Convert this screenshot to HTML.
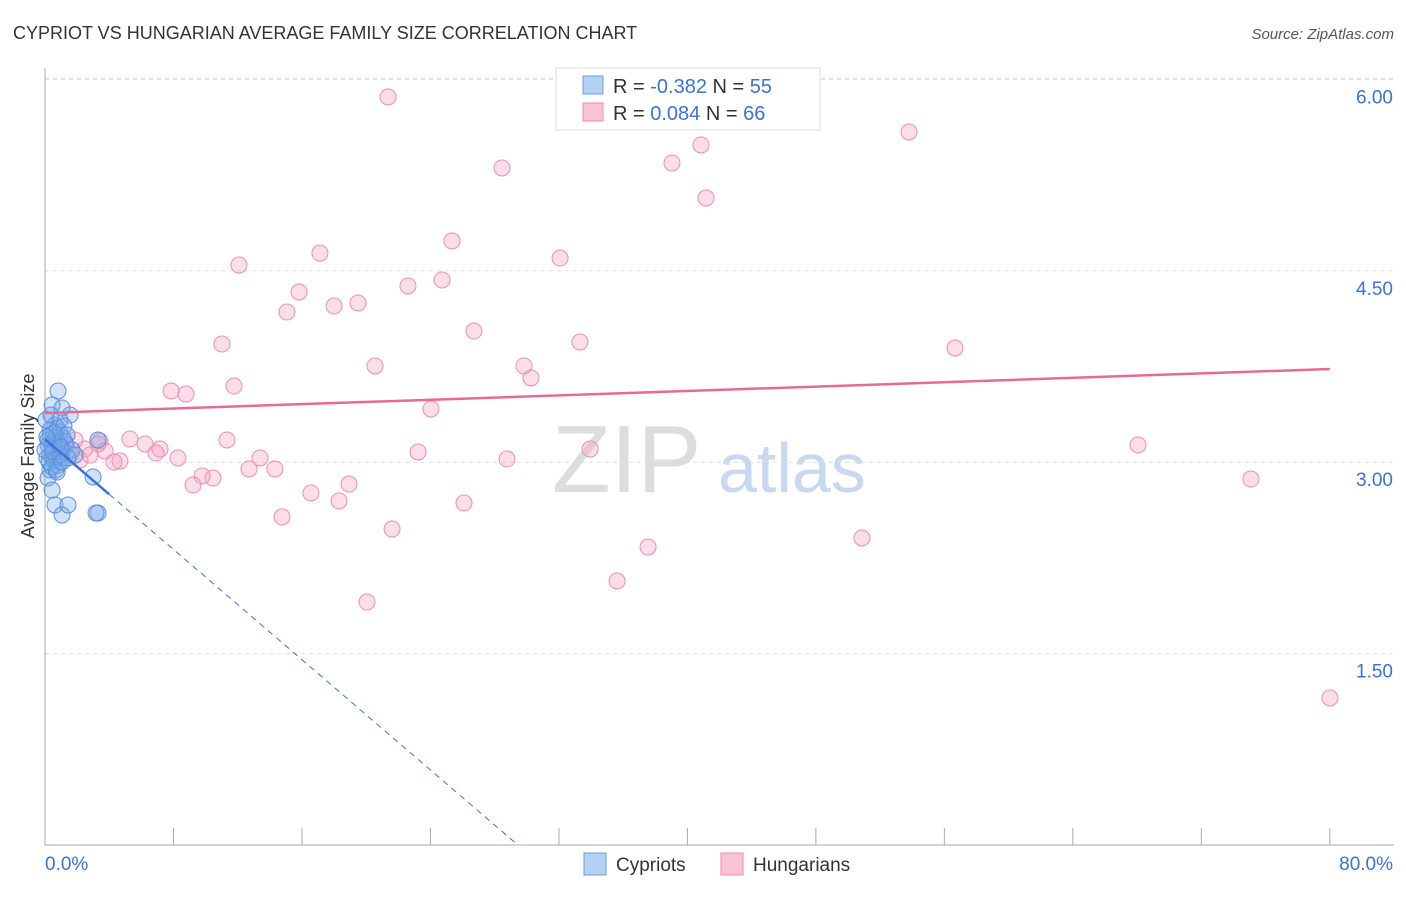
<!DOCTYPE html>
<html><head><meta charset="utf-8"><style>
body{margin:0;background:#fff;font-family:"Liberation Sans",sans-serif}
svg text{font-family:"Liberation Sans",sans-serif}
</style></head><body>
<svg id="chart" width="1406" height="892" xmlns="http://www.w3.org/2000/svg">
<text x="13" y="39" font-size="18" fill="#333">CYPRIOT VS HUNGARIAN AVERAGE FAMILY SIZE CORRELATION CHART</text>
<text x="1394" y="39" font-size="15" fill="#555" text-anchor="end" font-style="italic">Source: ZipAtlas.com</text>
<g><text x="552" y="492" font-size="96" fill="#ddd" font-family="Liberation Serif">ZIP</text><text x="718" y="492" font-size="70" fill="#c8d8ee">atlas</text></g>
<g id="grid"></g><g id="axes"></g><g id="marks"></g>
<text transform="translate(34,456) rotate(-90)" font-size="18" fill="#333" text-anchor="middle">Average Family Size</text>
<g>
<rect x="556" y="68" width="264" height="62" fill="#fff" stroke="#ddd"/>
<rect x="583" y="76" width="20" height="18" fill="#b3d0f5" stroke="#6a9ee0"/>
<rect x="583" y="103" width="20" height="18" fill="#f9c3d3" stroke="#eb8fae"/>
<text x="613" y="93" font-size="20" fill="#333">R = <tspan fill="#3a72d8">-0.382</tspan>   N = <tspan fill="#3a72d8">55</tspan></text>
<text x="613" y="120" font-size="20" fill="#333">R =  <tspan fill="#3a72d8">0.084</tspan>   N = <tspan fill="#3a72d8">66</tspan></text>
</g>
<g>
<rect x="584" y="853" width="22" height="22" fill="#b3d0f5" stroke="#6a9ee0"/>
<text x="616" y="871" font-size="19" fill="#333">Cypriots</text>
<rect x="721" y="853" width="22" height="22" fill="#f9c3d3" stroke="#eb8fae"/>
<text x="753" y="871" font-size="19" fill="#333">Hungarians</text>
</g>
</svg>
<script>
const yTicks=[1.5,3.0,4.5,6.0];
const yTickLabels=["1.50","3.00","4.50","6.00"];
const xTicks=[0,8,16,24,32,40,48,56,64,72,80];
const pinkPx=[[388,97],[502,168],[672,163],[701,145],[909,132],[706,198],[452,241],[320,253],[239,265],[560,258],[299,292],[287,312],[334,306],[358,303],[408,286],[442,280],[474,331],[580,342],[955,348],[222,344],[375,366],[524,366],[531,378],[234,386],[171,391],[186,394],[431,409],[130,439],[145,444],[160,449],[156,453],[100,441],[98,444],[105,451],[120,461],[114,462],[178,458],[227,440],[260,458],[275,469],[249,469],[213,478],[202,476],[193,485],[418,452],[507,459],[590,449],[1138,445],[1251,479],[311,493],[349,484],[339,501],[464,503],[282,517],[392,529],[648,547],[862,538],[617,581],[367,602],[1330,698],[85,449],[70,455],[80,460],[60,445],[90,455],[75,440]];
const bluePx=[[58,391],[52,405],[62,408],[70,415],[55,425],[50,430],[60,432],[48,440],[55,440],[65,442],[52,448],[58,450],[62,452],[50,455],[47,458],[54,460],[60,462],[66,445],[72,450],[98,440],[75,455],[68,458],[50,470],[58,465],[48,478],[52,490],[55,505],[62,515],[68,505],[98,513],[96,513],[93,477],[50,435],[56,437],[53,445],[48,445],[63,438],[57,428],[46,420],[51,415],[60,420],[64,426],[49,462],[56,470],[60,455],[45,450],[53,452],[58,443],[67,435],[54,433],[61,447],[47,437],[52,467],[57,472],[62,462]];
// convert estimated pixel readings into data values
const pinkX=pinkPx.map(p=>+((p[0]-45)/16.06).toFixed(2)), pinkY=pinkPx.map(p=>+((845-p[1])/127.6).toFixed(3));
const blueX=bluePx.map(p=>+((p[0]-45)/16.06).toFixed(2)), blueY=bluePx.map(p=>+((845-p[1])/127.6).toFixed(3));
const pinkLine=[3.386,3.73]; // y at x=0 and x=80
const blueLine=[3.18,-0.108]; // intercept, slope per %
const X=v=>45+v*16.06, Y=v=>845-v*127.6;
const NS="http://www.w3.org/2000/svg";
function mk(t,a,p){const e=document.createElementNS(NS,t);for(const k in a)e.setAttribute(k,a[k]);p.appendChild(e);return e;}
const grid=document.getElementById('grid'),axes=document.getElementById('axes'),marks=document.getElementById('marks');
yTicks.forEach((v,i)=>{const l=mk('line',{x1:45,x2:1394,y1:Y(v),y2:Y(v),stroke:'#ddd','stroke-dasharray':'4,4'},grid);

const t=mk('text',{x:1393,y:Y(v)+24,'font-size':19,fill:'#3a72d8','text-anchor':'end'},axes);t.textContent=yTickLabels[i];
});
const tg=mk('line',{x1:45,x2:1394,y1:Y(6.0)-1,y2:Y(6.0)-1,stroke:'#ddd','stroke-dasharray':'4,4'},grid);

const ya=mk('line',{x1:45,x2:45,y1:68,y2:845,stroke:'#aaa'},axes);
const xa=mk('line',{x1:45,x2:1394,y1:845,y2:845,stroke:'#aaa'},axes);
xTicks.forEach(v=>{const l=mk('line',{x1:X(v),x2:X(v),y1:828,y2:845,stroke:'#aaa'},axes);});
[[0,'0.0%','start',45],[80,'80.0%','end',1393]].forEach(d=>{const t=mk('text',{x:d[3],y:870,'font-size':19,fill:'#3a72d8','text-anchor':d[2]},axes);t.textContent=d[1];
});
pinkX.forEach((x,i)=>{const c=mk('circle',{cx:X(x),cy:Y(pinkY[i]),r:8,fill:'rgba(245,160,190,0.35)',stroke:'#eb8fae','stroke-width':1},marks);
});
blueX.forEach((x,i)=>{const c=mk('circle',{cx:X(x),cy:Y(blueY[i]),r:8,fill:'rgba(120,170,235,0.35)',stroke:'#5a8ede','stroke-width':1},marks);
});
const pl=mk('line',{x1:X(0),y1:Y(pinkLine[0]),x2:X(80),y2:Y(pinkLine[1]),stroke:'#e86a94','stroke-width':2.5},marks);

const bs=mk('line',{x1:X(0),y1:Y(blueLine[0]),x2:X(4),y2:Y(blueLine[0]+blueLine[1]*4),stroke:'#3a72d8','stroke-width':2.5},marks);

const xe=-blueLine[0]/blueLine[1];
const bd=mk('line',{x1:X(4),y1:Y(blueLine[0]+blueLine[1]*4),x2:X(xe),y2:Y(0),stroke:'#3a72d8','stroke-width':1,'stroke-dasharray':'6,5'},marks);

</script>
</body></html>
